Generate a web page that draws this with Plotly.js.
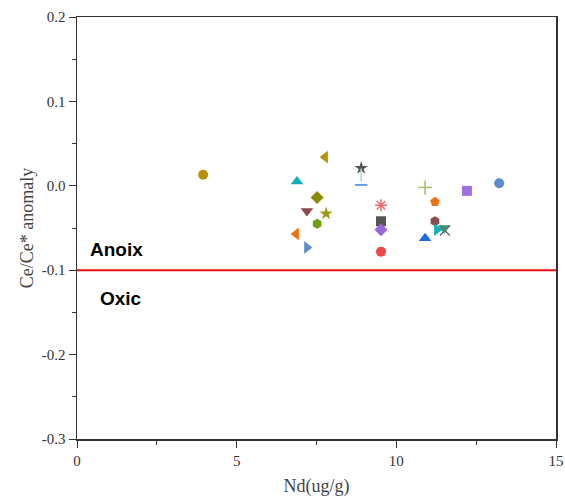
<!DOCTYPE html>
<html><head><meta charset="utf-8">
<script src="https://cdn.plot.ly/plotly-3.0.1.min.js"></script>
<style>body{margin:0;background:#fff}#c{width:565px;height:498px}</style>
</head><body><div id="c"></div>
<script>
const ndValues = [3.95, 6.89, 7.77, 7.52, 7.2, 7.8, 7.52, 6.86, 7.2, 8.9, 8.9, 8.9, 9.52, 9.52, 9.52, 9.52, 10.9, 11.21, 12.21, 13.22, 11.21, 11.27, 10.9, 11.5, 11.52];
const ceAnomaly = [0.013, 0.005, 0.034, -0.014, -0.030, -0.033, -0.045, -0.057, -0.073, 0.021, 0.013, 0.001, -0.023, -0.042, -0.052, -0.078, -0.002, -0.019, -0.006, 0.003, -0.042, -0.052, -0.062, -0.050, -0.053];
const symbolList = ['circle','triangle-up','triangle-left','diamond','triangle-down','star','hexagon','triangle-left','triangle-right','star','line-ns','line-ew','asterisk-open','square','diamond','circle','cross-thin-open','pentagon','square','circle','hexagon','triangle-right','triangle-up','triangle-down','x-thin-open'];
const colorList = ['#b8900a','#10aeb8','#b8900a','#8a8a00','#8c4a4a','#9a9a10','#6aa012','#f07010','#5b8bd0','#555555','#a8dcc8','#4a8ae0','#f07070','#555555','#9966dd','#ee4848','#a8c070','#f07010','#a070e0','#5b8bd0','#8c4a4a','#10b0b8','#1a6fdf','#2a9a7a','#707070'];
const yTickVals = [0.2, 0.1, 0, -0.1, -0.2, -0.3];
const yTickText = ['0.2','0.1','0.0','-0.1','-0.2','-0.3'];
const xTickVals = [0, 5, 10, 15];
const xTickText = ['0','5','10','15'];
const boundary = -0.1;
const xRange = [0, 15];

const openSyms = ['asterisk-open','cross-thin-open','x-thin-open','line-ns','line-ew'];
function sizeFor(s){
  if (s.startsWith('star')) return 10;
  if (s.startsWith('line')) return 9;
  if (s.startsWith('triangle')) return 11;
  return 10;
}
const traces = [{
  type:'scatter', mode:'lines', x:xRange, y:[boundary,boundary],
  line:{color:'#e81010', width:2}, hoverinfo:'skip', showlegend:false
}];
ndValues.forEach((x,i)=>{
  const s = symbolList[i];
  const open = openSyms.includes(s);
  traces.push({
    type:'scatter', mode:'markers', x:[x], y:[ceAnomaly[i]], showlegend:false,
    marker:{symbol:s, size:sizeFor(s), color:colorList[i],
      line:{color:colorList[i], width: open?1.6:0}}
  });
});
const tickFont = {family:'Liberation Serif, Times New Roman, serif', size:15, color:'#333'};
const titleFont = {family:'Liberation Serif, Times New Roman, serif', size:18, color:'#444'};
const layout = {
  width:565, height:498, margin:{l:77, r:9, t:17, b:59},
  paper_bgcolor:'#fff', plot_bgcolor:'#fff', showlegend:false,
  font:{family:'Liberation Serif, Times New Roman, serif', color:'#333', size:15},
  xaxis:{range:xRange, tickvals:xTickVals, ticktext:xTickText, ticks:'outside', ticklen:7, tickcolor:'#333', tickfont:tickFont,
    showline:true, linecolor:'#333', linewidth:1.5, mirror:true, showgrid:false, zeroline:false,
    minor:{ticks:'outside', ticklen:4, tickvals:[2.5,7.5,12.5], tickcolor:'#333'},
    title:{text:'Nd(ug/g)', font:titleFont, standoff:12}},
  yaxis:{range:[-0.3,0.2], tickvals:yTickVals, ticktext:yTickText, ticks:'outside', ticklen:7, tickcolor:'#333', tickfont:tickFont,
    showline:true, linecolor:'#333', linewidth:1.5, mirror:true, showgrid:false, zeroline:false,
    minor:{ticks:'outside', ticklen:4, tickvals:[0.15,0.05,-0.05,-0.15,-0.25], tickcolor:'#333'},
    title:{text:'Ce/Ce* anomaly', font:titleFont, standoff:3}},
  annotations:[
    {x:0.35, y:-0.076, xref:'x', yref:'y', text:'<b>Anoix</b>', showarrow:false, xanchor:'left', yanchor:'middle',
     font:{family:'Liberation Sans, Arial, sans-serif', size:19, color:'#000'}},
    {x:0.66, y:-0.133, xref:'x', yref:'y', text:'<b>Oxic</b>', showarrow:false, xanchor:'left', yanchor:'middle',
     font:{family:'Liberation Sans, Arial, sans-serif', size:19, color:'#000'}}
  ]
};
Plotly.newPlot('c', traces, layout, {displayModeBar:false, staticPlot:true});
</script></body></html>
